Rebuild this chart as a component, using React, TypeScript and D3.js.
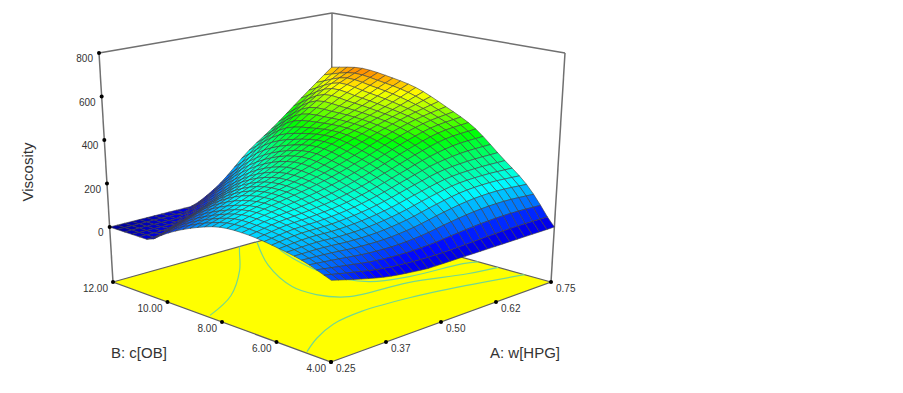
import React from "react";
import * as d3 from "d3";

// Values
const zTicks = [0, 200, 400, 600, 800];
const aTicks = ["0.25", "0.37", "0.50", "0.62", "0.75"];
const bTicks = ["4.00", "6.00", "8.00", "10.00", "12.00"];
const colorDomain = [-110, 40, 190, 360, 490, 610];
const colorRange = ["#000090", "#0000ff", "#00ffff", "#00ff00", "#ffff00", "#ff0000"];
// viscosity read at nine stations of B (4 -> 12) for each station of A (0.25 -> 0.75);
// values below zero are only used for the colour: the surface is cut at 0
const viscA025 = [82, 124, 148, 163, 158, 116, 50, -45, -110];
const viscA031 = [50, 116, 160, 185, 192, 155, 90, -5, -75];
const viscA037 = [22, 105, 160, 198, 222, 205, 140, 40, -35];
const viscA044 = [6, 103, 170, 215, 250, 250, 200, 105, 0];
const viscA050 = [-5, 115, 192, 245, 285, 305, 272, 195, 75];
const viscA056 = [-10, 140, 225, 285, 330, 360, 345, 300, 195];
const viscA062 = [-10, 160, 255, 330, 380, 405, 410, 397, 295];
const viscA069 = [-8, 165, 265, 365, 420, 450, 472, 485, 410];
const viscA075 = [-6, 155, 265, 375, 445, 505, 535, 550, 526];
const grid = [viscA025, viscA031, viscA037, viscA044, viscA050, viscA056, viscA062, viscA069, viscA075];

// contour lines read from the floor, as [fraction of A range, fraction of B range]
const contourOne: [number, number][] = [[0.58, 1], [0.54, 0.96], [0.4, 0.82], [0.2, 0.66], [0.015, 0.57]];
const contourTwo: [number, number][] = [[0.66, 1], [0.51, 0.8], [0.41, 0.59], [0.41, 0.48], [0.47, 0.39], [0.7, 0.35], [0.89, 0.27], [1, 0.24]];
const contourThree: [number, number][] = [[0.72, 1], [0.65, 0.88], [0.58, 0.61], [0.62, 0.45], [0.75, 0.39], [0.955, 0.355], [1, 0.33]];
const contourFour: [number, number][] = [[0.01, 0.12], [0.12, 0.185], [0.25, 0.24], [0.4, 0.26], [0.6, 0.24], [0.8, 0.19], [1, 0.12]];
const contours = [contourOne, contourTwo, contourThree, contourFour];

const W = 903, H = 393, CELLS = 30;

type P = [number, number];
// corners of the box on screen
const floorF: P = [331, 362], floorR: P = [551, 282], floorL: P = [113, 282], floorK: P = [331, 221];
const topF: P = [332, 105], topR: P = [565, 53], topL: P = [99, 53], topK: P = [332, 13];

const tOfZ = d3.scaleLinear().domain([0, 800]).range([0.24, 1]);
const color = d3.scaleLinear<string>().domain(colorDomain).range(colorRange).interpolate(d3.interpolateRgb).clamp(true);

const bil = (f: P, r: P, l: P, k: P, a: number, b: number): P => [
  (1 - a) * (1 - b) * f[0] + a * (1 - b) * r[0] + (1 - a) * b * l[0] + a * b * k[0],
  (1 - a) * (1 - b) * f[1] + a * (1 - b) * r[1] + (1 - a) * b * l[1] + a * b * k[1],
];
const floorPt = (a: number, b: number) => bil(floorF, floorR, floorL, floorK, a, b);
const topPt = (a: number, b: number) => bil(topF, topR, topL, topK, a, b);
const project = (a: number, b: number, z: number): P => {
  const p = floorPt(a, b), q = topPt(a, b), t = tOfZ(Math.max(0, z));
  return [p[0] + (q[0] - p[0]) * t, p[1] + (q[1] - p[1]) * t];
};

const cr = (p0: number, p1: number, p2: number, p3: number, t: number) =>
  0.5 * (2 * p1 + (p2 - p0) * t + (2 * p0 - 5 * p1 + 4 * p2 - p3) * t * t + (3 * p1 - p0 - 3 * p2 + p3) * t * t * t);
const spline = (arr: number[], u: number) => {
  const n = arr.length - 1, s = Math.min(u * n, n - 1e-9), i = Math.floor(s), t = s - i;
  const g = (j: number) => (j < 0 ? 2 * arr[0] - arr[1] : j > n ? 2 * arr[n] - arr[n - 1] : arr[j]);
  return cr(g(i - 1), g(i), g(i + 1), g(i + 2), t);
};
// smooth surface through the values, used for the mesh only
const surface = (a: number, b: number) => spline(grid.map((row) => spline(row, b)), a);

const pathOf = (pts: P[]) => d3.line()(pts) as string;
const curveOf = d3.line().curve(d3.curveCatmullRom);

function buildCells() {
  const cells: { d: string; fill: string }[] = [];
  const s = d3.scaleLinear().domain([0, CELLS]).range([0, 1]);
  for (let sum = 2 * CELLS - 2; sum >= 0; sum--) {
    for (let i = CELLS - 1; i >= 0; i--) {
      const j = sum - i;
      if (j < 0 || j >= CELLS) continue;
      const c: [number, number][] = [[i, j], [i + 1, j], [i + 1, j + 1], [i, j + 1]];
      const zs = c.map(([x, y]) => surface(s(x), s(y)));
      const pts = c.map(([x, y], k) => project(s(x), s(y), zs[k]));
      cells.push({ d: pathOf(pts) + "Z", fill: color(d3.mean(zs) as number) });
    }
  }
  return cells;
}

const gray = "#707070";
const txt = "#333333";

export default function App() {
  const cells = buildCells();
  const frac = d3.scaleLinear().domain([0, 4]).range([0, 1]);
  const Seg = ({ a, b, w = 1.5 }: { a: P; b: P; w?: number }) => (
    <line x1={a[0]} y1={a[1]} x2={b[0]} y2={b[1]} stroke={gray} strokeWidth={w} />
  );
  const Dot = ({ p }: { p: P }) => <circle cx={p[0]} cy={p[1]} r={2} fill="#000" />;
  const zCorner = (z: number): P => project(0, 1, z);
  return (
    <svg width={W} height={H} viewBox={`0 0 ${W} ${H}`} style={{ position: "absolute", left: 0, top: 0, background: "#fff", fontFamily: "'Liberation Sans', Arial, sans-serif" }}>
      <Seg a={topL} b={topK} />
      <Seg a={topK} b={topR} />
      <Seg a={topL} b={floorL} />
      <Seg a={topR} b={floorR} />
      <Seg a={topK} b={floorK} />
      <path d={pathOf([floorF, floorR, floorK, floorL]) + "Z"} fill="#ffff00" stroke="#606060" strokeWidth={1.2} />
      {contours.map((c, i) => (
        <path key={i} d={curveOf(c.map(([a, b]) => floorPt(a, b))) as string} fill="none" stroke="#74d88f" strokeWidth={1.2} />
      ))}
      <g>
        {cells.map((c, i) => (
          <path key={i} d={c.d} fill={c.fill} stroke="#3c3c3c" strokeOpacity={0.85} strokeWidth={0.7} strokeLinejoin="round" />
        ))}
      </g>
      {zTicks.map((z) => {
        const p = zCorner(z);
        return (
          <g key={z}>
            <Dot p={p} />
            <text x={p[0] - 6} y={p[1] + 9} textAnchor="end" fontSize={10} fill={txt}>{z}</text>
          </g>
        );
      })}
      {aTicks.map((t, i) => {
        const p = floorPt(frac(i), 0);
        return (
          <g key={t}>
            <Dot p={p} />
            <text x={p[0] + 5} y={p[1] + 10} fontSize={10} fill={txt}>{t}</text>
          </g>
        );
      })}
      {bTicks.map((t, i) => {
        const p = floorPt(0, frac(i));
        return (
          <g key={t}>
            <Dot p={p} />
            <text x={p[0] - 5} y={p[1] + 10} textAnchor="end" fontSize={10} fill={txt}>{t}</text>
          </g>
        );
      })}
      <text transform="translate(33,172) rotate(-90)" textAnchor="middle" fontSize={15} fill={txt}>Viscosity</text>
      <text x={111} y={358} fontSize={15} fill={txt}>B: c[OB]</text>
      <text x={490} y={358} fontSize={15} fill={txt}>A: w[HPG]</text>
    </svg>
  );
}
